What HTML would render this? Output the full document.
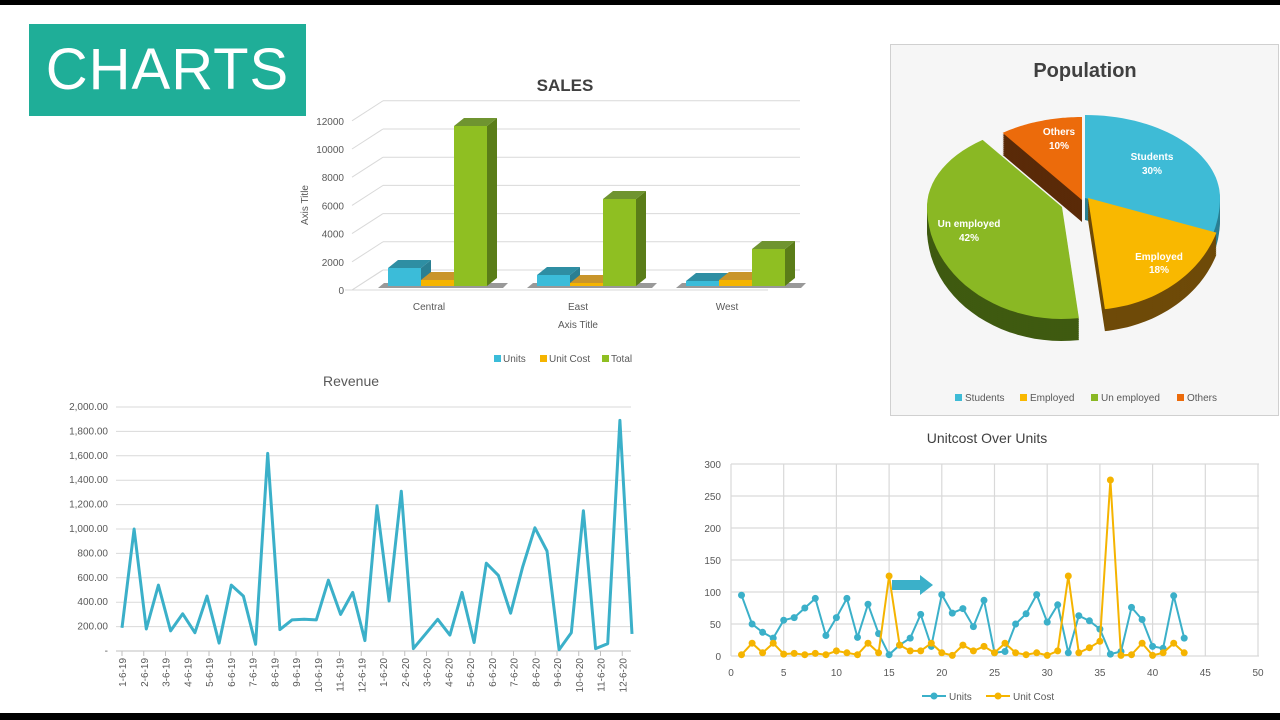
<!DOCTYPE html>
<html><head><meta charset="utf-8"><style>
html,body{margin:0;padding:0;background:#fff;width:1280px;height:720px;overflow:hidden;font-family:"Liberation Sans",sans-serif}
#top{position:absolute;left:0;top:0;width:1280px;height:5px;background:#000}
#bot{position:absolute;left:0;top:713px;width:1280px;height:7px;background:#000}
#banner{position:absolute;left:29px;top:24px;width:277px;height:92px;background:#1fae98;color:#fff;font-size:58px;line-height:92px;text-align:center;letter-spacing:1px}
svg{position:absolute;left:0;top:0}
</style></head><body>
<div id="top"></div><div id="bot"></div>
<div id="banner">CHARTS</div>
<svg id="s" width="1280" height="720" font-family="Liberation Sans, sans-serif"></svg>
<script>
var h='';
function L(x1,y1,x2,y2,c,w){h+='<line x1="'+x1+'" y1="'+y1+'" x2="'+x2+'" y2="'+y2+'" stroke="'+c+'" stroke-width="'+(w||1)+'"/>';}
function T(x,y,t,s,c,a,ex){h+='<text x="'+x+'" y="'+y+'" font-size="'+s+'" fill="'+(c||'#595959')+'" text-anchor="'+(a||'start')+'" '+(ex||'')+'>'+t+'</text>';}
function P(d,f,ex){h+='<path d="'+d+'" fill="'+f+'" '+(ex||'')+'/>';}
// ===== SALES =====
T(565,91,'SALES',17,'#404040','middle','font-weight="bold"');
var yl=[0,2000,4000,6000,8000,10000,12000];
for(var i=0;i<7;i++){var y=290-i*28.2;L(352,y,383,y-20,'#d9d9d9');L(383,y-20,800,y-20,'#d9d9d9');T(344,y+4,yl[i],10,'#595959','end');}
L(352,290,383,270,'#d9d9d9');
L(345,290,768,290,'#d9d9d9');
T(308,205,'Axis Title',10,'#595959','middle','transform="rotate(-90 308 205)"');
function bar(x,top,c1,c2,c3){var w=33,b=286,d=10,e=8;
P('M'+(x+w)+' '+b+'L'+(x+w+d)+' '+(b-e)+'L'+(x+w+d)+' '+(top-e)+'L'+(x+w)+' '+top+'Z',c3);
P('M'+x+' '+top+'L'+(x+d)+' '+(top-e)+'L'+(x+w+d)+' '+(top-e)+'L'+(x+w)+' '+top+'Z',c2);
h+='<rect x="'+x+'" y="'+top+'" width="'+w+'" height="'+(b-top)+'" fill="'+c1+'"/>';}
var B=[['#3bbcd9','#2e8ea3','#2a7f92'],['#f5b400','#c9952a','#b07d10'],['#8fbf22','#6f9430','#5a7d18']];
var tops=[[268,280,126],[275,283,199],[281,280,249]];var xs=[388,537,686];
for(var g=0;g<3;g++){P('M'+(xs[g]-10)+' 288L'+(xs[g]+115)+' 288L'+(xs[g]+120)+' 283L'+(xs[g]-4)+' 283Z','#555','opacity="0.6"');for(var k=0;k<3;k++)bar(xs[g]+k*33,tops[g][k],B[k][0],B[k][1],B[k][2]);}
T(429,310,'Central',10,'#595959','middle');T(578,310,'East',10,'#595959','middle');T(727,310,'West',10,'#595959','middle');
T(578,328,'Axis Title',10,'#595959','middle');
h+='<rect x="494" y="355" width="7" height="7" fill="#3bbcd9"/><rect x="540" y="355" width="7" height="7" fill="#f5b400"/><rect x="602" y="355" width="7" height="7" fill="#8fbf22"/>';
T(503,362,'Units',10);T(549,362,'Unit Cost',10);T(611,362,'Total',10);
// ===== REVENUE =====
T(351,386,'Revenue',14,'#595959','middle');
for(var i=0;i<=10;i++){var y=651-i*24.4;if(i>0)L(116,y,631,y,'#d9d9d9');var v=(i*200);var s=i==0?'-':(v>=1000?Math.floor(v/1000)+','+String(v%1000).padStart(3,'0'):v)+(i==0?'':'.00');T(108,y+3,s,10,'#595959','end');}
L(116,651,631,651,'#bfbfbf');
var rv=[190,1000,180,540,165,305,150,450,65,540,450,55,1620,175,255,260,255,580,300,480,85,1190,410,1310,20,140,260,130,480,70,720,620,310,690,1010,820,10,150,1150,20,60,1890,140];
var pts=[];for(var i=0;i<rv.length;i++){pts.push((122+i*(510/42)).toFixed(1)+','+(651-rv[i]*0.122).toFixed(1));}
h+='<polyline points="'+pts.join(' ')+'" fill="none" stroke="#3bb0c9" stroke-width="3" stroke-linejoin="round"/>';
var lb=['1-6-19','2-6-19','3-6-19','4-6-19','5-6-19','6-6-19','7-6-19','8-6-19','9-6-19','10-6-19','11-6-19','12-6-19','1-6-20','2-6-20','3-6-20','4-6-20','5-6-20','6-6-20','7-6-20','8-6-20','9-6-20','10-6-20','11-6-20','12-6-20'];
for(var i=0;i<24;i++){var x=122+i*21.75;L(x,651,x,656,'#bfbfbf');T(x+4,658,lb[i],10,'#595959','end','transform="rotate(-90 '+(x+4)+' 658)"');}
// ===== SCATTER =====
T(987,443,'Unitcost Over Units',14,'#404040','middle');
var X=function(v){return 731+v*10.54},Y=function(v){return 656-v*0.64};
for(var i=0;i<=6;i++){var y=Y(i*50);L(731,y,1259,y,'#d9d9d9',1.2);T(721,y+4,i*50,10,'#595959','end');}
for(var i=0;i<=10;i++){var x=X(i*5);L(x,464,x,656,'#d9d9d9',1.2);T(x,676,i*5,10,'#595959','middle');}
var U=[95,50,37,28,56,60,75,90,32,60,90,29,81,35,2,17,28,65,15,96,67,74,46,87,5,7,50,66,96,53,80,5,63,55,42,3,7,76,57,15,12,94,28];
var C=[2,20,5,20,3,4,2,4,2,8,5,2,20,5,125,17,8,8,20,5,1,17,8,15,5,20,5,2,5,1,8,125,5,13,23,275,1,2,20,1,5,20,5];
function ser(d,c){var p=[];for(var i=0;i<d.length;i++)p.push(X(i+1).toFixed(1)+','+Y(d[i]).toFixed(1));h+='<polyline points="'+p.join(' ')+'" fill="none" stroke="'+c+'" stroke-width="2"/>';for(var i=0;i<d.length;i++)h+='<circle cx="'+X(i+1).toFixed(1)+'" cy="'+Y(d[i]).toFixed(1)+'" r="3.5" fill="'+c+'"/>';}
ser(U,'#3bb0c9');ser(C,'#f5b400');
P('M892 580L920 580L920 575L933 585L920 595L920 590L892 590Z','#3bb0c9');
L(922,696,946,696,'#3bb0c9',2);h+='<circle cx="934" cy="696" r="3.5" fill="#3bb0c9"/>';T(949,700,'Units',10);
L(986,696,1010,696,'#f5b400',2);h+='<circle cx="998" cy="696" r="3.5" fill="#f5b400"/>';T(1013,700,'Unit Cost',10);
// ===== PIE =====
h+='<rect x="890.5" y="44.5" width="388" height="371" fill="#f6f6f6" stroke="#d0d0d0"/>';
T(1085,77,'Population',20,'#404040','middle','font-weight="bold"');
function pt(cx,cy,a,dz){var r=a*Math.PI/180,s=Math.sin(r);return [cx+135*Math.cos(r),cy+(s>0?112:83)*s+dz];}
function sector(cx,cy,a0,a1,dz){var d='M'+cx+' '+(cy+dz);for(var a=a0;a<=a1+0.01;a+=(a1-a0)/40){var p=pt(cx,cy,a,dz);d+='L'+p[0].toFixed(1)+' '+p[1].toFixed(1);}return d+'Z';}
var S=[[-90,18,'#3ebbd6','#2a7f92',0,0],[18,82.8,'#f9b800','#6e4a08',3,0],[82.8,234,'#8ab824','#3f5a10',-23,9],[234,270,'#ec6b0b','#5a2a08',-3,2]];
var order=[3,0,1,2];
for(var o=0;o<4;o++){var q=S[order[o]];for(var dz=22;dz>0;dz-=2)P(sector(1085+q[4],198+q[5],q[0],q[1],dz),q[3]);}
for(var o=0;o<4;o++){var q=S[order[o]];P(sector(1085+q[4],198+q[5],q[0],q[1],0),q[2]);}
var ex='font-weight="bold"';
T(1152,160,'Students',10,'#fff','middle',ex);T(1152,174,'30%',10,'#fff','middle',ex);
T(1159,260,'Employed',10,'#fff','middle',ex);T(1159,273,'18%',10,'#fff','middle',ex);
T(969,227,'Un employed',10,'#fff','middle',ex);T(969,241,'42%',10,'#fff','middle',ex);
T(1059,135,'Others',10,'#fff','middle',ex);T(1059,149,'10%',10,'#fff','middle',ex);
h+='<rect x="955" y="394" width="7" height="7" fill="#3ebbd6"/><rect x="1020" y="394" width="7" height="7" fill="#f9b800"/><rect x="1091" y="394" width="7" height="7" fill="#8ab824"/><rect x="1177" y="394" width="7" height="7" fill="#ec6b0b"/>';
T(965,401,'Students',10);T(1030,401,'Employed',10);T(1101,401,'Un employed',10);T(1187,401,'Others',10);
document.getElementById('s').innerHTML=h;
</script>
</body></html>
